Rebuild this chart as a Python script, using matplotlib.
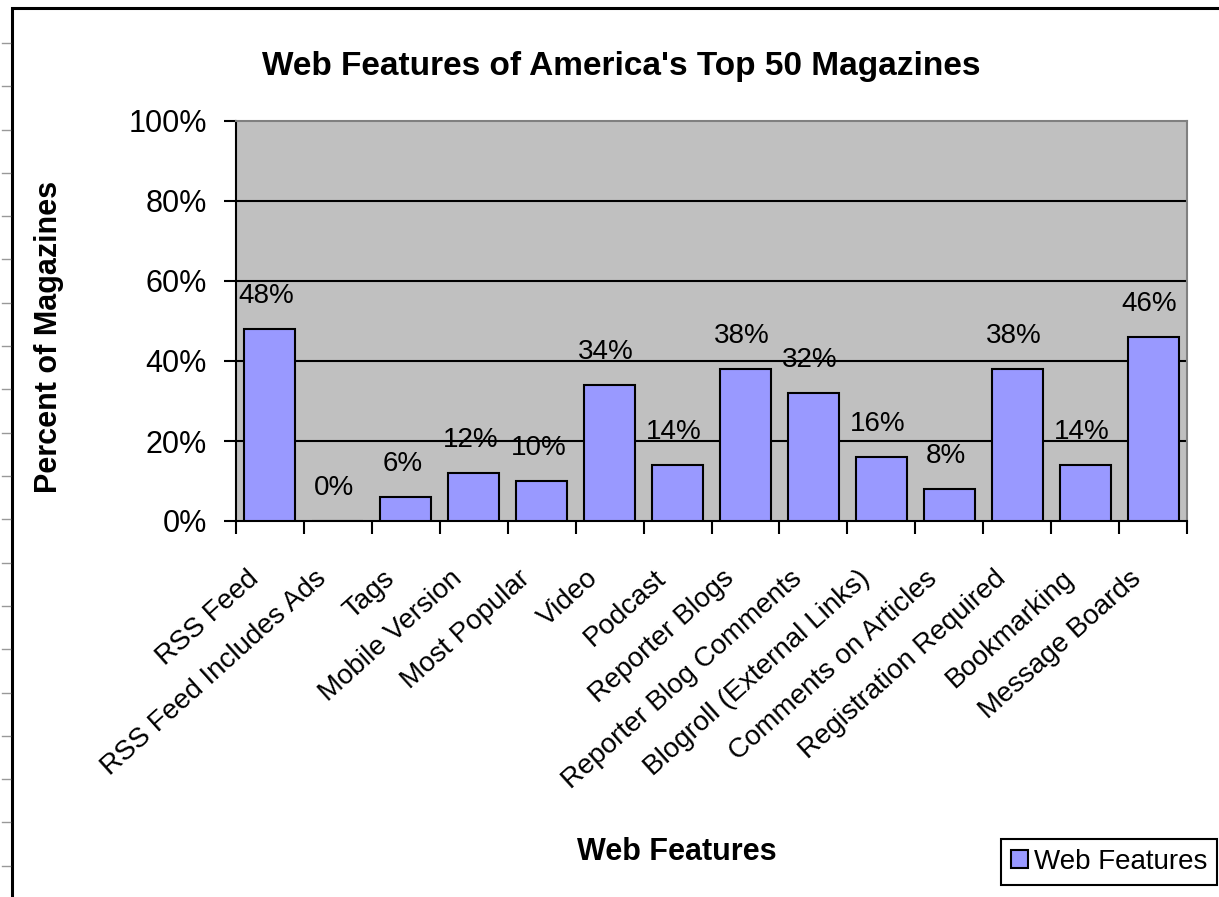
import numpy as np
import matplotlib
matplotlib.use('Agg')
import matplotlib.pyplot as plt
from matplotlib.patches import Rectangle
from matplotlib.lines import Line2D

plt.rcParams['font.family'] = ['Liberation Sans', 'DejaVu Sans']

features = ['RSS Feed', 'RSS Feed Includes Ads', 'Tags', 'Mobile Version',
            'Most Popular', 'Video', 'Podcast', 'Reporter Blogs',
            'Reporter Blog Comments', 'Blogroll (External Links)',
            'Comments on Articles', 'Registration Required', 'Bookmarking',
            'Message Boards']
percent = [48, 0, 6, 12, 10, 34, 14, 38, 32, 16, 8, 38, 14, 46]
yticks = [0, 20, 40, 60, 80, 100]

W, H = 1219, 897
fig = plt.figure(figsize=(W / 100, H / 100), dpi=100)

# outer chart frame (cropped on right and bottom)
fig.patches.append(Rectangle((12 / W, -0.1), 1.2, 1 - 8 / H + 0.1,
                             transform=fig.transFigure, fill=False,
                             edgecolor='black', linewidth=2.2))
# small gray spreadsheet ticks on the far left
for yy in np.arange(43, H, 43.3):
    fig.lines.append(Line2D([2 / W, 10 / W], [1 - yy / H, 1 - yy / H],
                            transform=fig.transFigure, color='#999999', lw=1))

ax = fig.add_axes([236 / W, 1 - 521 / H, (1187 - 236) / W, (521 - 121) / H])
ax.set_facecolor('#C0C0C0')

x = np.arange(len(features))
ax.bar(x, percent, width=0.75, color='#9999FF', edgecolor='black',
       linewidth=1.5, zorder=3, label='Web Features')
for xi, v in zip(x, percent):
    ax.text(xi - 0.05, v + 8.2, '%d%%' % v, ha='center', va='center',
            fontsize=20, color='black', zorder=4)

ax.set_xlim(-0.5, len(features) - 0.5)
ax.set_ylim(0, 100)
ax.set_yticks(yticks)
ax.set_yticklabels(['%d%%' % t for t in yticks], fontsize=22)
for t in yticks[1:-1]:
    ax.axhline(t, color='black', lw=1.5, zorder=1)

# category boundaries get the tick marks, labels hang from invisible minor ticks
ax.set_xticks(np.arange(len(features) + 1) - 0.5)
ax.set_xticklabels([])
ax.set_xticks(x - 0.35, minor=True)
ax.set_xticklabels(features, minor=True, rotation=42, ha='right',
                   va='top', rotation_mode='anchor', fontsize=20)
ax.tick_params(axis='x', which='minor', length=0, pad=32)
ax.tick_params(axis='x', which='major', length=9, width=1.5, direction='out')
ax.tick_params(axis='y', length=9, width=1.5, direction='out', pad=12)

ax.spines['left'].set_color('black')
ax.spines['left'].set_linewidth(1.5)
ax.spines['bottom'].set_color('black')
ax.spines['bottom'].set_linewidth(1.5)
ax.spines['top'].set_color('#808080')
ax.spines['right'].set_color('#808080')
ax.spines['top'].set_linewidth(1.5)
ax.spines['right'].set_linewidth(1.5)

fig.text(621 / W, 1 - 67 / H, "Web Features of America's Top 50 Magazines",
         ha='center', va='center', fontsize=24, fontweight='bold')
fig.text(49 / W, 1 - 337 / H, 'Percent of Magazines', ha='center',
         va='center', rotation=90, fontsize=22, fontweight='bold')
fig.text(677 / W, 1 - 852 / H, 'Web Features', ha='center', va='center',
         fontsize=22, fontweight='bold')

leg = fig.legend(loc='center', bbox_to_anchor=(1109 / W, 1 - 862 / H),
                 fontsize=20, frameon=True, fancybox=False, shadow=False,
                 handlelength=0.62, handleheight=0.62, handletextpad=0.2,
                 borderpad=0.35, borderaxespad=0, edgecolor='black',
                 framealpha=1)
leg.get_frame().set_linewidth(1.5)

fig.savefig('out.png', dpi=100, facecolor='white')
